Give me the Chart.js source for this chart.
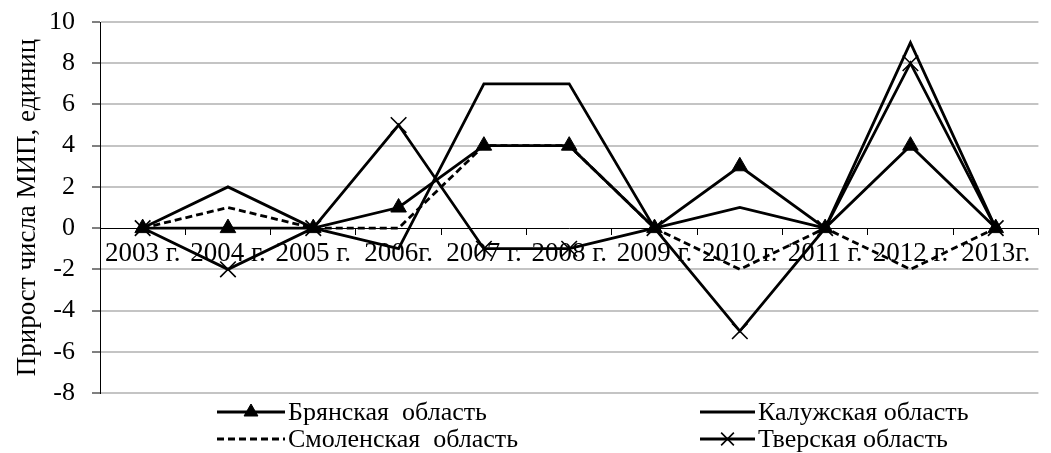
<!DOCTYPE html>
<html>
<head>
<meta charset="utf-8">
<script src="https://cdn.jsdelivr.net/npm/chart.js@4"></script>
<style>
  html, body { margin: 0; padding: 0; background: #fff; }
  #wrap { width: 1051px; height: 453px; }
</style>
</head>
<body>
<div id="wrap"><canvas id="c" width="1051" height="453"></canvas></div>
<script>
// Прирост числа малых инновационных предприятий по областям, 2003–2013
const years = ['2003 г.', '2004 г.', '2005 г.', '2006г.', '2007 г.', '2008 г.',
               '2009 г.', '2010 г.', '2011 г.', '2012 г.', '2013г.'];
const bryansk  = [0, 0, 0, 1, 4, 4, 0, 3, 0, 4, 0];
const kaluga   = [0, 2, 0, -1, 7, 7, 0, 1, 0, 9, 0];
const smolensk = [0, 1, 0, 0, 4, 4, 0, -2, 0, -2, 0];
const tver     = [0, -2, 0, 5, -1, -1, 0, -5, 0, 8, 0];
const seriesNames = ['Брянская  область', 'Калужская область', 'Смоленская  область', 'Тверская область'];
const yMin = -8, yMax = 10, yStep = 2;
const yTitle = 'Прирост числа МИП, единиц';

const FONT = '"Liberation Serif", "Times New Roman", serif';

// legend laid out as a 2×2 grid under the plot
const gridLegend = {
  id: 'gridLegend',
  afterDraw(chart, args, opts) {
    const ctx = chart.ctx;
    ctx.save();
    ctx.font = opts.fontSize + 'px ' + FONT;
    ctx.textBaseline = 'middle';
    ctx.textAlign = 'left';
    chart.data.datasets.forEach((ds, i) => {
      const cell = opts.cells[i];
      const y = cell.y;
      ctx.strokeStyle = ds.borderColor;
      ctx.fillStyle = ds.borderColor;
      ctx.lineWidth = ds.borderWidth;
      ctx.setLineDash(ds.borderDash || []);
      ctx.beginPath();
      ctx.moveTo(cell.x0, y);
      ctx.lineTo(cell.x1, y);
      ctx.stroke();
      ctx.setLineDash([]);
      if (ds.pointRadius > 0) {
        ctx.lineWidth = ds.pointBorderWidth;
        Chart.helpers.drawPoint(ctx, {
          pointStyle: ds.pointStyle,
          radius: opts.markerRadius[i],
          rotation: 0,
          borderWidth: ds.pointBorderWidth
        }, (cell.x0 + cell.x1) / 2, y);
      }
      ctx.fillStyle = '#000';
      ctx.fillText(ds.label, cell.x1 + 3, y + 1);
    });
    ctx.restore();
  }
};

new Chart(document.getElementById('c'), {
  type: 'line',
  data: {
    labels: years,
    datasets: [
      { label: seriesNames[0], data: bryansk, borderColor: '#000', backgroundColor: '#000',
        borderWidth: 2.8, pointStyle: 'triangle', pointRadius: 9, pointBorderWidth: 1,
        pointBackgroundColor: '#000', pointBorderColor: '#000' },
      { label: seriesNames[1], data: kaluga, borderColor: '#000', backgroundColor: '#000',
        borderWidth: 2.8, pointRadius: 0, pointBorderWidth: 0 },
      { label: seriesNames[2], data: smolensk, borderColor: '#000', backgroundColor: '#000',
        borderWidth: 2.8, borderDash: [7, 4], pointRadius: 0, pointBorderWidth: 0 },
      { label: seriesNames[3], data: tver, borderColor: '#000', backgroundColor: '#000',
        borderWidth: 2.8, pointStyle: 'crossRot', pointRadius: 11, pointBorderWidth: 1.6,
        pointBorderColor: '#000' }
    ]
  },
  options: {
    responsive: false,
    animation: false,
    devicePixelRatio: 1,
    layout: { padding: { top: 22, right: 2, bottom: 60, left: 0 } },
    elements: { line: { tension: 0 } },
    plugins: {
      legend: { display: false },
      tooltip: { enabled: false },
      gridLegend: {
        fontSize: 26,
        markerRadius: [8, 0, 0, 9],
        cells: [
          { x0: 217, x1: 285, y: 412 },
          { x0: 700, x1: 755, y: 412 },
          { x0: 217, x1: 285, y: 439 },
          { x0: 700, x1: 755, y: 439 }
        ]
      }
    },
    scales: {
      x: {
        type: 'category',
        position: { y: 0 },
        offset: true,
        border: { display: true, color: '#000', width: 1 },
        grid: { display: true, offset: true, drawOnChartArea: false, drawTicks: true,
                tickLength: 6, tickColor: '#000', tickWidth: 1 },
        ticks: { color: '#000', font: { family: FONT, size: 27 }, padding: 4,
                 maxRotation: 0, minRotation: 0, autoSkip: false }
      },
      y: {
        min: yMin, max: yMax,
        afterFit(scale) {
          scale.width = 100;
          // the outer layout padding already leaves room for the end labels
          scale.paddingTop = 0;
          scale.paddingBottom = 0;
        },
        border: { display: true, color: '#000', width: 1 },
        grid: {
          color: ctx => (ctx.tick && ctx.tick.value === 0) ? 'rgba(0,0,0,0)' : '#c4c4c4',
          lineWidth: 2,
          drawTicks: true, tickLength: 8, tickColor: '#000', tickWidth: 1
        },
        ticks: { stepSize: yStep, color: '#000', font: { family: FONT, size: 26 }, padding: 17 },
        title: { display: true, text: yTitle, align: 'center', color: '#000',
                 font: { family: FONT, size: 27 }, padding: { top: 12, bottom: 0 } }
      }
    }
  },
  plugins: [gridLegend]
});
</script>
</body>
</html>
